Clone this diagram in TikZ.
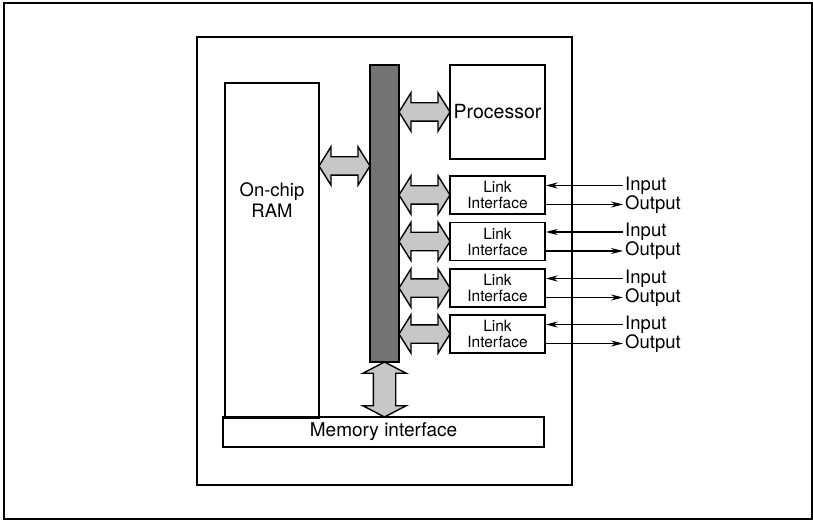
\documentclass[tikz,border=0pt]{standalone}
\usepackage{fontspec}
\setmainfont{TeX Gyre Heros}
\usetikzlibrary{positioning,arrows.meta,shapes.arrows,calc}

\begin{document}
\begin{tikzpicture}[
    x=1pt, y=-1pt,
    every node/.style={font=\fontsize{18.5}{21}\selectfont},
    box/.style={draw, line width=1.5pt, inner sep=0pt, align=center},
    busarrow/.style={double arrow, draw, line width=1.4pt, fill=black!22, inner sep=0pt,
        text height=8.5pt, text depth=8.5pt, minimum height=51pt,
        double arrow head extend=10pt, double arrow tip angle=116},
    sig/.style={-{Stealth[length=12pt,width=6pt]}, line width=1.1pt}
]
\useasboundingbox (0,0) rectangle (813,521);

% Outer frame and chip outline
\draw[line width=1.5pt] (4,3) rectangle (812,519);
\draw[line width=1.4pt] (197,37) rectangle (572,485);

% === Blocks ===
\node[box, fill=black!55, minimum width=29pt, minimum height=297pt] (bus) at (384.5,213.5) {};
\node[box, minimum width=95pt, minimum height=94pt, font=\fontsize{19.5}{21}\selectfont] (proc) at (497.5,112) {Processor};
\node[box, minimum width=94pt, minimum height=335pt] (ram) at (272,250.5) {};
\node[align=center] (ramlbl) at ($(ram.north)+(0,118)$) {On-chip\\RAM};
\node[box, minimum width=321pt, minimum height=30pt, font=\fontsize{19}{21}\selectfont] (mem) at (383.5,432) {Memory interface};

% === Bus connections ===
\node[busarrow] (procbus) at ($(bus.east |- proc.west)!0.5!(proc.west)$) {};
\node[busarrow] (rambus) at ($(ram.east |- 0,166)!0.5!(bus.west |- 0,166)$) {};
\node[busarrow, rotate=90, text height=10.5pt, text depth=10.5pt, minimum height=55pt,
      double arrow head extend=10.5pt, double arrow tip angle=125]
      (membus) at ($(bus.south)!0.5!(bus.south |- mem.north)$) {};

% === Link interfaces ===
\foreach \i/\y in {1/195,2/241.5,3/288,4/334} {
    \node[box, minimum width=95pt, minimum height=38pt,
          font=\fontsize{15.5}{16}\selectfont] (link\i) at (497.5,\y) {Link\\Interface};
    \node[busarrow] (linkbus\i) at ($(bus.east |- link\i.west)!0.5!(link\i.west)$) {};
    % serial lines
    \node[anchor=west, inner sep=2pt] (in\i) at (623,\y-9.5) {Input};
    \node[anchor=west, inner sep=2pt] (out\i) at (623,\y+9.5) {Output};
    \draw[sig] (in\i.west) -- (in\i.west -| link\i.east);
    \draw[sig] (out\i.west -| link\i.east) -- (out\i.west);
}

\end{tikzpicture}
\end{document}
